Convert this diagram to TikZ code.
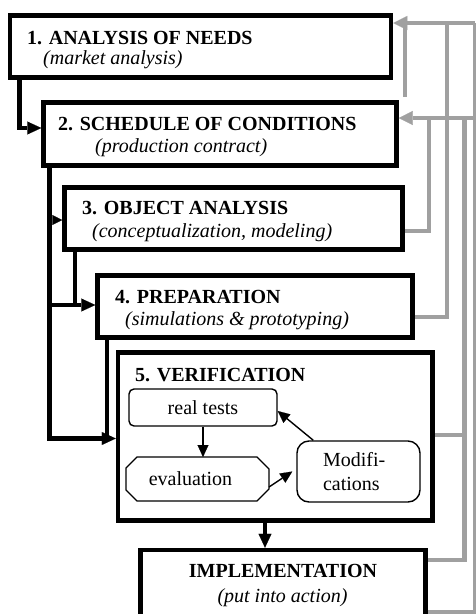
\documentclass[tikz,border=0pt]{standalone}
\usepackage{fontspec}
\setmainfont{Liberation Serif}
\usetikzlibrary{arrows.meta}
\definecolor{greyline}{RGB}{160,160,160}
\begin{document}
\begin{tikzpicture}[x=1pt,y=-1pt,
  bigbox/.style={draw,line width=4.5pt,rectangle,inner sep=0pt},
  txt/.style={anchor=base west,inner sep=0pt,font=\fontsize{20}{24}\selectfont},
  ctxt/.style={anchor=base,inner sep=0pt,font=\fontsize{20}{24}\selectfont},
  smallbox/.style={draw,line width=1.4pt,inner sep=0pt,font=\fontsize{20}{24}\selectfont},
  blk/.style={line width=4.5pt},
  blkarr/.style={blk,-{Triangle[length=14pt,width=13pt,line width=0.1pt]}},
  thinarr/.style={line width=1.4pt,-{Triangle[length=12pt,width=11pt,line width=0.1pt]}},
  gry/.style={line width=4.5pt,draw=greyline},
  gryarr/.style={gry,-{Triangle[length=14pt,width=14pt,line width=0.1pt]}}]
\useasboundingbox (0,0) rectangle (476,614);
\clip (0,0) rectangle (476,614);

% main boxes
\node[bigbox,minimum width=381pt,minimum height=62pt] (b1) at (200.5,46.5) {};
\node[bigbox,minimum width=353pt,minimum height=63pt] (b2) at (220,134) {};
\node[bigbox,minimum width=338pt,minimum height=62pt] (b3) at (233.5,218.5) {};
\node[bigbox,minimum width=315pt,minimum height=62pt] (b4) at (255,306.5) {};
\node[bigbox,minimum width=314.5pt,minimum height=168pt] (b5) at (275.25,436.5) {};
\node[bigbox,minimum width=285pt,minimum height=70pt] (impl) at (283,585) {};

% texts
\node[txt] (t1a) at (27,44) {\bfseries 1. ANALYSIS OF NEEDS};
\node[txt] (t1b) at (43,64.5) {\itshape (market analysis)};
\node[txt] (t2a) at (58,130) {\bfseries 2. SCHEDULE OF CONDITIONS};
\node[txt] (t2b) at (95,152.5) {\itshape (production contract)};
\node[txt] (t3a) at (82,214) {\bfseries 3. OBJECT ANALYSIS};
\node[txt] (t3b) at (92,237) {\itshape (conceptualization, modeling)};
\node[txt] (t4a) at (115,303) {\bfseries 4. PREPARATION};
\node[txt] (t4b) at (125,325) {\itshape (simulations \& prototyping)};
\node[txt] (t5a) at (135,381) {\bfseries 5. VERIFICATION};
\node[ctxt] (tia) at (283,577.5) {\bfseries IMPLEMENTATION};
\node[ctxt] (tib) at (282.5,602) {\itshape (put into action)};

% inner boxes of verification
\node[smallbox,rounded corners=5pt,minimum width=148pt,minimum height=37pt] (rt) at (203,407.5) {real tests};
\node[inner sep=0pt,outer sep=0pt,minimum width=143pt,minimum height=44pt,font=\fontsize{20}{24}\selectfont] (ev) at (197.5,479) {\raisebox{-2pt}{evaluation}\hspace*{14pt}};
\draw[line width=1.4pt] ([xshift=11pt]ev.north west) -- ([xshift=-12pt]ev.north east)
  -- ([yshift=-12pt]ev.north east) -- ([yshift=12pt]ev.south east)
  -- ([xshift=-12pt]ev.south east) -- ([xshift=11pt]ev.south west)
  -- ([yshift=11pt]ev.south west) -- ([yshift=-11pt]ev.north west) -- cycle;
\node[smallbox,rounded corners=12pt,minimum width=123pt,minimum height=61pt,text width=71pt,align=left] (mod) at (358.5,471.5) {Modifi-\\cations};

\draw[thinarr] (rt.south) -- (rt.south |- ev.north);
\draw[thinarr] ([yshift=-8pt]ev.east) -- ([xshift=-4pt]mod.west);
\draw[thinarr] ([xshift=17pt]mod.north west) -- ([yshift=-3.5pt]rt.east);

% black connectors
\coordinate (k1) at (19.5,128);
\draw[blkarr] (b1.south -| k1) -- (k1) -- (k1 -| b2.west);
\coordinate (k2) at (49.5,438.5);
\draw[blkarr] (b2.south -| k2) -- (k2) -- (k2 -| b5.west);
\coordinate (k3) at (49.5,220);
\draw[blk,-{Triangle[length=10pt,width=10pt,line width=0.1pt]}] (k3) -- (k3 -| b3.west);
\coordinate (k4) at (49.5,305);
\coordinate (k5) at (75,305);
\draw[blk] (k4) -- (k5);
\draw[blkarr] (b3.south -| k5) -- (k5) -- (k5 -| b4.west);
\coordinate (k6) at (107,438.5);
\draw[blk] (b4.south -| k6) -- (k6);
\coordinate (k7) at (265,0);
\draw[blkarr] (b5.south -| k7) -- (impl.north -| k7);

% grey feedback lines
\coordinate (gT) at (475,23);
\coordinate (gS) at (475,118);
\coordinate (gB) at (475,612);
\draw[gryarr] (gT) -- (gT -| b1.east);
\draw[gryarr] (gS) -- (gS -| b2.east);
\coordinate (f1) at (405,97);
\draw[gry] (f1) -- (f1 |- gT);
\coordinate (g3) at (429,231);
\draw[gry] (g3 -| b3.east) -- (g3) -- (g3 |- gS);
\coordinate (g4) at (447,317);
\draw[gry] (g4 -| b4.east) -- (g4) -- (g4 |- gT);
\coordinate (g5) at (464.5,435);
\draw[gry] (g5 -| b5.east) -- (g5);
\coordinate (g6) at (464.5,560);
\draw[gry] (g6 -| impl.east) -- (g6) -- (g6 |- gS);
\draw[gry] (gB -| impl.east) -- (gB) -- (gT);
\end{tikzpicture}
\end{document}
